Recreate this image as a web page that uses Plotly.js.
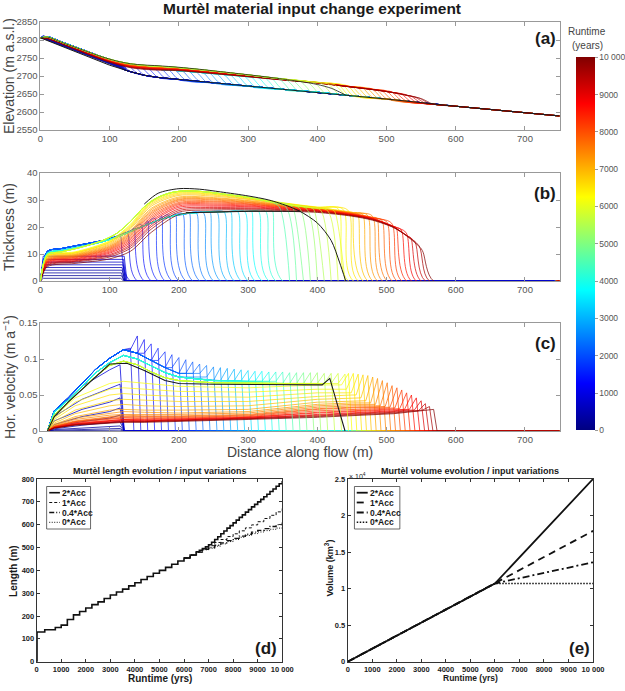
<!DOCTYPE html>
<html>
<head>
<meta charset="utf-8">
<script src="https://cdn.plot.ly/plotly-3.0.1.min.js"></script>
<style>html,body{margin:0;padding:0;background:#fff}</style>
</head>
<body>
<div id="chart" style="width:625px;height:691px"></div>
<script>
// ---------------- bedrock profile (m a.s.l.) ----------------
const bedX = [0, 50, 100, 130, 150, 170, 200, 250, 300, 350, 400, 450, 500, 565, 600, 650, 700, 750];
const bedZ = [2806, 2768, 2730, 2712, 2702, 2696, 2690, 2681, 2672, 2663, 2655, 2645, 2636, 2622, 2616, 2607, 2598, 2589];

// ---------------- early build-up (runtime < 1000 yr) ----------------
const earlyYears = [100, 200, 300, 400, 500, 600, 700, 800, 900];
const earlyThick = [1, 2, 3, 4, 5, 6, 7, 8, 9.2];
const earlyFlatEnd = [116, 117, 117, 118, 118, 119, 119, 120, 121];
const earlyVelX = [10, 20, 60, 100, 115];
const earlyVel = [
  [0, 0.0003, 0.0007, 0.001, 0.0012],
  [0, 0.001, 0.002, 0.003, 0.0035],
  [0, 0.002, 0.004, 0.006, 0.007],
  [0, 0.003, 0.008, 0.011, 0.013],
  [0, 0.006, 0.013, 0.018, 0.022],
  [0, 0.009, 0.02, 0.027, 0.032],
  [0, 0.014, 0.03, 0.04, 0.046],
  [0, 0.02, 0.044, 0.06, 0.065],
  [0, 0.027, 0.062, 0.085, 0.092]
];

// ---------------- advance phase (front position per step) ----------------
const growthFront = [130, 140, 150, 160, 170, 180, 190, 200, 210, 220, 230, 240, 250, 260, 270, 280,
                     290, 300, 310, 320, 330, 340, 350, 360, 370, 380, 390, 400, 410, 420, 430, 440];
const growthYears = [950, 1070, 1200, 1330, 1460, 1590, 1720, 1850, 1970, 2090, 2250, 2410, 2570, 2730, 2890, 3050,
                     3230, 3410, 3590, 3780, 3960, 4150, 4330, 4520, 4700, 4890, 5080, 5260, 5450, 5630, 5820, 6000];
const growthTopAtFront = [17, 18, 19.5, 21, 22.3, 23.3, 24, 24.5, 24.8, 25, 25.2, 25.3, 25.4, 25.5, 25.5, 25.6,
                          25.6, 25.7, 25.7, 25.8, 25.8, 25.9, 26, 27.5, 27.3, 27, 26.8, 26.6, 26.4, 26.2, 26, 25.8];
const growthPeakVel = [0.115, 0.132, 0.127, 0.121, 0.115, 0.11, 0.106, 0.102, 0.099, 0.096, 0.093, 0.091, 0.089, 0.088, 0.087, 0.086,
                       0.085, 0.084, 0.083, 0.083, 0.082, 0.082, 0.082, 0.081, 0.081, 0.081, 0.081, 0.081, 0.08, 0.08, 0.08, 0.079];

// thickness behind the front during the advance (early / middle / late stage)
const stageX = [0, 10, 30, 60, 90, 110, 130, 150, 170, 190, 210, 240, 270, 300, 330, 360, 390, 420];
const stageThickEarly = [0, 11, 12, 13.5, 15, 16.5, 18.5, 20.5, 22.5, 24, 24.8, 25.3, 25.5, 25.6, 25.7, 25.8, 25.8, 25.8];
const stageThickMid   = [0, 10.3, 11.3, 12.8, 14.6, 16.2, 18.3, 20.5, 22.5, 24, 25, 25.5, 25.7, 25.8, 25.9, 26, 26, 26];
const stageThickLate  = [0, 9.8, 10.8, 12.6, 15, 17.6, 22, 27.5, 31, 32.8, 33.4, 33, 32, 31, 29.5, 28.2, 27.2, 26.6];

// horizontal velocity behind the front during the advance
const stageVelX = [10, 20, 40, 60, 80, 100, 120, 140, 160, 180, 200, 250, 300, 350, 400];
const stageVelEarly = [0, 0.028, 0.046, 0.066, 0.086, 0.101, 0.113, 0.108, 0.098, 0.088, 0.08, 0.074, 0.072, 0.071, 0.071];
const stageVelMid   = [0, 0.026, 0.043, 0.062, 0.081, 0.095, 0.105, 0.1, 0.09, 0.081, 0.075, 0.07, 0.069, 0.068, 0.068];
const stageVelLate  = [0, 0.022, 0.04, 0.058, 0.076, 0.091, 0.097, 0.092, 0.082, 0.074, 0.07, 0.067, 0.066, 0.066, 0.066];

// ---------------- after the input change (runtime > 6000 yr) ----------------
const decayYears = [6200, 6350, 6500, 6650, 6850, 7100, 7280, 7450, 7620, 7800, 8000, 8170, 8380, 8590, 8810, 9080, 9330, 9600, 10000];
const decayFront = [445, 452, 459, 466, 473, 480, 487, 494, 501, 508, 515, 522, 529, 536, 543, 550, 556, 562, 568];
const decayTopAtFront = [26.8, 26.6, 26.3, 25.4, 25.1, 24.9, 24.5, 24.2, 23.3, 22.6, 22, 21.5, 19.8, 19, 18, 16, 14.5, 13, 10.5];
const decayPeakVel = [0.08, 0.08, 0.079, 0.078, 0.077, 0.075, 0.073, 0.07, 0.067, 0.063, 0.06, 0.057, 0.053, 0.05, 0.046, 0.042, 0.038, 0.034, 0.03];
const decayX = [0, 10, 50, 100, 130, 160, 200, 250, 300, 350, 400, 450, 480, 510, 530, 550];
const decayThick = [
  [0, 9.5, 10.8, 14.9, 21, 29.7, 33.2, 32.6, 31, 29, 27.4],
  [0, 9.3, 10.6, 14.7, 20.6, 29.2, 32.8, 32.3, 30.8, 28.9, 27.3],
  [0, 9.2, 10.4, 14.4, 20.2, 28.8, 32.5, 32.1, 30.6, 28.8, 27.2],
  [0, 9, 10.3, 14.2, 19.8, 28.3, 32.1, 31.8, 30.4, 28.7, 27.2, 25.5],
  [0, 8.8, 10, 13.8, 19.3, 27.7, 31.7, 31.4, 30.2, 28.5, 27.1, 25.4],
  [0, 8.5, 9.8, 13.4, 18.6, 26.9, 31.1, 30.9, 29.8, 28.3, 26.9, 25.3],
  [0, 8.3, 9.6, 13, 18.1, 26.4, 30.7, 30.6, 29.6, 28.1, 26.8, 25.2],
  [0, 8.1, 9.4, 12.7, 17.7, 25.8, 30.3, 30.3, 29.3, 28, 26.7, 25.1],
  [0, 7.9, 9.2, 12.4, 17.3, 25.3, 30, 30, 29.1, 27.8, 26.6, 25.1, 23.6],
  [0, 7.7, 9, 12.1, 16.8, 24.8, 29.6, 29.6, 28.9, 27.7, 26.6, 25, 23.5],
  [0, 7.5, 8.8, 11.8, 16.3, 24.2, 29.1, 29.3, 28.6, 27.5, 26.5, 24.9, 23.4],
  [0, 7.3, 8.6, 11.5, 15.8, 23.6, 28.7, 28.9, 28.4, 27.4, 26.4, 24.8, 23.3],
  [0, 7.1, 8.3, 11.1, 15.3, 23, 28.3, 28.5, 28.1, 27.2, 26.3, 24.7, 23.2, 20.3],
  [0, 6.9, 8.1, 10.7, 14.7, 22.3, 27.8, 28.1, 27.8, 27, 26.1, 24.6, 23.1, 20.2],
  [0, 6.6, 7.8, 10.3, 14.1, 21.7, 27.3, 27.7, 27.5, 26.8, 26, 24.5, 23, 20.2],
  [0, 6.3, 7.5, 9.8, 13.4, 20.8, 26.7, 27.2, 27.1, 26.6, 25.9, 24.4, 22.9, 20.1, 16.7],
  [0, 6, 7.3, 9.4, 12.8, 20.1, 26.1, 26.8, 26.8, 26.4, 25.8, 24.3, 22.8, 20, 16.7],
  [0, 5.7, 7, 8.9, 12.1, 19.2, 25.5, 26.3, 26.4, 26.1, 25.6, 24.2, 22.7, 19.9, 16.6],
  [0, 5.3, 6.5, 8.2, 11, 18, 24.6, 25.5, 25.9, 25.8, 25.4, 24, 22.5, 19.8, 16.5, 12]
];
const decayVelX = [10, 20, 50, 100, 120, 150, 200, 300, 400, 450, 480, 510, 530, 550];
const decayVel = [
  [0, 0.02, 0.046, 0.066, 0.069, 0.066, 0.062, 0.06, 0.064],
  [0, 0.018, 0.04, 0.058, 0.06, 0.058, 0.055, 0.054, 0.058],
  [0, 0.016, 0.035, 0.05, 0.052, 0.05, 0.048, 0.047, 0.053],
  [0, 0.013, 0.029, 0.042, 0.044, 0.043, 0.041, 0.041, 0.048, 0.05],
  [0, 0.011, 0.024, 0.035, 0.037, 0.035, 0.034, 0.035, 0.044, 0.046],
  [0, 0.0092, 0.02, 0.029, 0.03, 0.029, 0.029, 0.03, 0.04, 0.042],
  [0, 0.0081, 0.018, 0.025, 0.027, 0.026, 0.025, 0.027, 0.037, 0.039],
  [0, 0.0072, 0.016, 0.022, 0.023, 0.023, 0.023, 0.025, 0.035, 0.037, 0.037],
  [0, 0.0067, 0.014, 0.02, 0.022, 0.021, 0.021, 0.023, 0.033, 0.035, 0.035],
  [0, 0.0063, 0.013, 0.019, 0.02, 0.02, 0.02, 0.022, 0.031, 0.033, 0.034],
  [0, 0.006, 0.013, 0.018, 0.019, 0.019, 0.019, 0.021, 0.03, 0.032, 0.033],
  [0, 0.0056, 0.012, 0.017, 0.018, 0.017, 0.018, 0.02, 0.028, 0.03, 0.031, 0.032],
  [0, 0.0053, 0.011, 0.015, 0.016, 0.016, 0.017, 0.019, 0.026, 0.028, 0.029, 0.031],
  [0, 0.005, 0.01, 0.014, 0.016, 0.015, 0.016, 0.019, 0.025, 0.027, 0.028, 0.03],
  [0, 0.0047, 0.0097, 0.013, 0.015, 0.014, 0.015, 0.018, 0.023, 0.025, 0.026, 0.028, 0.03],
  [0, 0.0045, 0.0093, 0.013, 0.014, 0.014, 0.015, 0.018, 0.022, 0.024, 0.025, 0.027, 0.029],
  [0, 0.0044, 0.0088, 0.012, 0.013, 0.013, 0.014, 0.017, 0.021, 0.023, 0.024, 0.026, 0.028],
  [0, 0.0042, 0.0084, 0.012, 0.013, 0.013, 0.014, 0.017, 0.02, 0.022, 0.023, 0.025, 0.027, 0.029],
  [0, 0.004, 0.008, 0.011, 0.012, 0.012, 0.013, 0.016, 0.019, 0.021, 0.022, 0.024, 0.026, 0.028]
];

// ---------------- reference profiles drawn in black ----------------
const blackX     = [0, 10, 30, 60, 90, 110, 130, 150, 170, 200, 230, 260, 300, 330, 360, 375, 400, 420, 432, 441];
const blackThick = [0, 9.8, 10.8, 12.6, 15, 17.6, 22, 28.5, 32.5, 34.2, 34, 33, 31.5, 30, 27.5, 25.8, 21.5, 15, 7, 0];
const blackLowX  = [210, 250, 300, 350, 375];
const blackLow   = [25.3, 25.6, 25.8, 25.8, 25.8];
const blackVelX  = [10, 20, 40, 60, 80, 100, 125, 150, 180, 200, 250, 300, 350, 400, 407, 418, 440];
const blackVel   = [0, 0.02, 0.04, 0.058, 0.076, 0.093, 0.094, 0.084, 0.07, 0.066, 0.065, 0.065, 0.065, 0.065, 0.064, 0.073, 0];

// ---------------- (d) length evolution (stepwise front advance) ----------------
const lenYears = [0, 15, 330, 760, 1000, 1250, 1500, 1750, 2000, 2250, 2500, 2750, 3000, 3250, 3500, 3750, 4000,
                  4250, 4500, 4750, 5000, 5250, 5500, 5750, 6000, 6250, 6500, 6625, 6750, 6875, 7000, 7125, 7250,
                  7375, 7500, 7625, 7750, 7875, 8000, 8125, 8250, 8375, 8500, 8625, 8750, 8875, 9000, 9125, 9250,
                  9375, 9500, 9625, 9750, 9875, 10000];
const len2Acc = [0, 130, 140, 150, 160, 185, 205, 220, 235, 250, 262, 277, 292, 305, 318, 332, 346,
                 360, 373, 387, 400, 413, 427, 441, 454, 467, 481, 488, 495, 503, 512, 523, 535,
                 547, 560, 572, 585, 596, 608, 620, 632, 643, 655, 666, 678, 689, 700, 711, 722,
                 733, 745, 756, 768, 779, 791];
const varYears = [6000, 6250, 6500, 6750, 7000, 7250, 7500, 7750, 8000, 8250, 8500, 8750, 9000, 9250, 9500, 9750, 10000];
const len1Acc  = [454, 467, 481, 495, 508, 522, 535, 548, 560, 573, 586, 599, 613, 627, 641, 656, 671];
const len04Acc = [454, 467, 480, 492, 500, 510, 520, 530, 540, 550, 558, 567, 575, 583, 592, 600, 610];
const len0Acc  = [454, 467, 479, 490, 497, 506, 516, 526, 535, 545, 553, 561, 568, 574, 580, 585, 588];

// ---------------- (e) volume evolution ----------------
const volYears = [0, 6000, 10000];
const vol2Acc  = [0, 10700, 25000];
const vol1Acc  = [0, 10700, 17900];
const vol04Acc = [0, 10700, 13600];
const vol0Acc  = [0, 10700, 10700];

const scenarioNames = ['2*Acc', '1*Acc', '0.4*Acc', '0*Acc'];
const runtimeTicks = [0, 1000, 2000, 3000, 4000, 5000, 6000, 7000, 8000, 9000, 10000];
const runtimeLabels = ['0', '1000', '2000', '3000', '4000', '5000', '6000', '7000', '8000', '9000', '10 000'];

// ---------------- helpers ----------------
const W = 625, H = 691;
const px = v => v / W, py = v => 1 - v / H;
const FONT = 'Liberation Sans, Arial, sans-serif';

const jetStops = [[0, [0, 0, 128]], [0.125, [0, 0, 255]], [0.375, [0, 255, 255]],
                  [0.625, [255, 255, 0]], [0.875, [255, 0, 0]], [1, [128, 0, 0]]];
const jetScale = jetStops.map(([f, c]) => [f, 'rgb(' + c.join(',') + ')']);
function jet(f) {
  f = Math.max(0, Math.min(1, f));
  for (let i = 1; i < jetStops.length; i++) {
    if (f <= jetStops[i][0]) {
      const [f0, c0] = jetStops[i - 1], [f1, c1] = jetStops[i];
      const u = (f - f0) / (f1 - f0);
      return 'rgb(' + c0.map((v, k) => Math.round(v + (c1[k] - v) * u)).join(',') + ')';
    }
  }
  return 'rgb(128,0,0)';
}
function bedAt(x) {
  for (let i = 1; i < bedX.length; i++) {
    if (x <= bedX[i]) {
      const u = (x - bedX[i - 1]) / (bedX[i] - bedX[i - 1]);
      return bedZ[i - 1] + (bedZ[i] - bedZ[i - 1]) * u;
    }
  }
  return bedZ[bedZ.length - 1];
}
// thickness line: values behind the front, then the front itself, then (optionally) ice-free bed
function thickLine(xs, hs, front, top, tail) {
  const X = [], Y = [];
  for (let i = 0; i < xs.length && i < hs.length; i++) {
    if (xs[i] < front - 15) { X.push(xs[i]); Y.push(hs[i]); }
  }
  X.push(front - 15, front); Y.push(top, 0);
  if (tail) { X.push(750); Y.push(0); }
  return [X, Y];
}
function velLine(xs, vs, front, peak, tail) {
  const X = [], Y = [];
  let last = 0;
  for (let i = 0; i < xs.length && i < vs.length; i++) {
    if (xs[i] <= front - 10) { X.push(xs[i]); Y.push(vs[i]); last = vs[i]; }
  }
  if (X[X.length - 1] < front - 10) { X.push(front - 10); Y.push(last); }
  X.push(front, front + 5); Y.push(peak, 0);
  if (tail) { X.push(750); Y.push(0); }
  return [X, Y];
}
// surface elevation = bed + thickness, ice-free part (optionally) follows the bed
function surfaceLine(X, Y, front, tail) {
  const sx = [], sz = [];
  X.forEach((x, i) => { if (x <= front) { sx.push(x); sz.push(bedAt(x) + Y[i]); } });
  if (tail) bedX.forEach((x, i) => { if (x > front) { sx.push(x); sz.push(bedZ[i]); } });
  return [sx, sz];
}

const traces = [];
function addLine(xa, ya, X, Y, color, extra) {
  traces.push(Object.assign({
    type: 'scatter', mode: 'lines', xaxis: xa, yaxis: ya, x: X, y: Y,
    line: { color: color, width: 0.9 }, hoverinfo: 'skip', showlegend: false
  }, extra || {}));
}
const smooth = { shape: 'spline', smoothing: 0.8 };

// early build-up
earlyYears.forEach((yr, i) => {
  const col = jet(yr / 10000);
  const X = [0, 4, earlyFlatEnd[i], earlyFlatEnd[i] + 4, 750];
  const Y = [0, earlyThick[i], earlyThick[i], 0, 0];
  addLine('x2', 'y2', X, Y, col, { opacity: 0.85 });
  const [sx, sz] = surfaceLine(X.slice(0, 4), Y.slice(0, 4), earlyFlatEnd[i] + 4, true);
  addLine('x', 'y', sx, sz, col, { opacity: 0.85 });
  addLine('x3', 'y3', earlyVelX.concat([121, 750]), earlyVel[i].concat([0, 0]), col, { opacity: 0.85 });
});

// advance: stage 0/1 drawn first, late stage (thick bulge) drawn after the decline
const stageThick = [stageThickEarly, stageThickMid, stageThickLate];
const stageVel = [stageVelEarly, stageVelMid, stageVelLate];
function drawGrowth(lateStage) {
  const tail = !lateStage;
  growthFront.forEach((F, i) => {
    const yr = growthYears[i];
    const st = yr < 2500 ? 0 : (yr < 4500 ? 1 : 2);
    if ((st === 2) !== lateStage) return;
    const col = jet(yr / 10000);
    const [X, Y] = thickLine(stageX, stageThick[st], F, growthTopAtFront[i], tail);
    addLine('x2', 'y2', X, Y, col, { opacity: 0.75, line: Object.assign({ color: col, width: 0.9 }, smooth) });
    const [sx, sz] = surfaceLine(X, Y, F, tail);
    addLine('x', 'y', sx, sz, col, { opacity: 0.75, line: Object.assign({ color: col, width: 0.8 }, smooth) });
    const [vx, vy] = velLine(stageVelX, stageVel[st], F, growthPeakVel[i], tail);
    addLine('x3', 'y3', vx, vy, col, { opacity: 0.75 });
  });
}
drawGrowth(false);

// after the input change
decayYears.forEach((yr, i) => {
  const col = jet(yr / 10000);
  const F = decayFront[i];
  const [X, Y] = thickLine(decayX, decayThick[i], F, decayTopAtFront[i], true);
  addLine('x2', 'y2', X, Y, col, { opacity: 0.8, line: Object.assign({ color: col, width: 0.9 }, smooth) });
  const [sx, sz] = surfaceLine(X, Y, F, true);
  addLine('x', 'y', sx, sz, col, { opacity: 0.8, line: Object.assign({ color: col, width: 0.8 }, smooth) });
  const [vx, vy] = velLine(decayVelX, decayVel[i], F, decayPeakVel[i], true);
  addLine('x3', 'y3', vx, vy, col, { opacity: 0.8 });
});

drawGrowth(true);

// black reference lines
{
  const bx = [], by = [];
  blackX.forEach((x, i) => { if (x >= 150) { bx.push(x); by.push(blackThick[i]); } });
  addLine('x2', 'y2', bx, by, '#1a1a1a', { line: Object.assign({ color: '#1a1a1a', width: 1 }, smooth) });
  addLine('x2', 'y2', blackLowX, blackLow, '#1a1a1a', { line: { color: '#1a1a1a', width: 1 } });
  const [sx, sz] = surfaceLine(blackX, blackThick, 441, false);
  addLine('x', 'y', sx, sz, '#1a1a1a', { line: Object.assign({ color: '#1a1a1a', width: 0.8 }, smooth) });
  addLine('x', 'y', bedX, bedZ, '#1a1a1a', { line: { color: '#1a1a1a', width: 1 } });
  addLine('x3', 'y3', blackVelX, blackVel, '#1a1a1a', { line: { color: '#1a1a1a', width: 1.1 } });
}

// runtime colour bar
traces.push({
  type: 'scatter', mode: 'markers', xaxis: 'x3', yaxis: 'y3', x: [-50, -50], y: [-1, -1],
  showlegend: false, hoverinfo: 'skip',
  marker: {
    size: 1, opacity: 0, color: [0, 10000], cmin: 0, cmax: 10000, colorscale: jetScale, showscale: true,
    colorbar: {
      x: px(575.7), xanchor: 'left', xref: 'paper', y: py(57.3), yanchor: 'top', yref: 'paper',
      len: 373.4, lenmode: 'pixels', thickness: 19, thicknessmode: 'pixels', xpad: 0, ypad: 0,
      outlinewidth: 0, tickvals: runtimeTicks, ticktext: runtimeLabels,
      ticks: 'outside', ticklen: 3, tickcolor: '#999',
      tickfont: { family: FONT, size: 8.5, color: '#555' }
    }
  }
});

// (d) length and (e) volume scenarios
const dDash = ['solid', '3px,2px', '5px,2px,1px,2px', '1px,1.5px'];
const dWidth = [1.6, 1, 1.3, 1];
const eDash = ['solid', '7px,5px', '7px,3px,2px,3px', '1.5px,1.5px'];
const eWidth = [1.8, 1.8, 1.8, 1.6];
const lenX = [lenYears, varYears, varYears, varYears];
const lenY = [len2Acc, len1Acc, len04Acc, len0Acc];
const volY = [vol2Acc, vol1Acc, vol04Acc, vol0Acc];
for (let k = 3; k >= 0; k--) {
  addLine('x4', 'y4', lenX[k], lenY[k], '#111', { line: { color: '#111', width: dWidth[k], dash: dDash[k], shape: 'hv' } });
  addLine('x5', 'y5', volYears, volY[k], '#111', { line: { color: '#111', width: eWidth[k], dash: eDash[k] } });
}

// ---------------- axes ----------------
function axTop(extra) {
  return Object.assign({
    showline: true, mirror: 'allticks', linecolor: '#999', linewidth: 1,
    ticks: 'inside', ticklen: 4, tickcolor: '#999', tickwidth: 1,
    showgrid: false, zeroline: false, fixedrange: true,
    tickfont: { family: FONT, size: 9.5, color: '#555' }
  }, extra);
}
function axBot(extra) {
  return Object.assign({
    showline: true, mirror: 'allticks', linecolor: '#333', linewidth: 1,
    ticks: 'inside', ticklen: 3, tickcolor: '#333', tickwidth: 1,
    showgrid: false, zeroline: false, fixedrange: true,
    tickfont: { family: FONT, size: 7.5, color: '#222', weight: 'bold' }
  }, extra);
}
const distTicks = [0, 100, 200, 300, 400, 500, 600, 700];
const topDom = [px(40.5), px(560.5)];

function ann(x, y, text, size, extra) {
  return Object.assign({
    xref: 'paper', yref: 'paper', x: px(x), y: py(y), text: text, showarrow: false,
    xanchor: 'center', yanchor: 'middle', font: { family: FONT, size: size, color: '#444' }
  }, extra || {});
}
const dark = c => ({ family: FONT, size: c, color: '#1a1a1a' });

// hand-drawn legend boxes for (d) and (e)
const shapes = [];
const annotations = [
  ann(312, 9, '<b>Murtèl material input change experiment</b>', 15.5, { font: dark(15.5) }),
  ann(588, 32, 'Runtime', 10),
  ann(588, 45, '(years)', 10),
  ann(546, 38, '<b>(a)</b>', 17, { font: dark(17) }),
  ann(546, 193, '<b>(b)</b>', 17, { font: dark(17) }),
  ann(546, 343, '<b>(c)</b>', 17, { font: dark(17) }),
  ann(9, 76, 'Elevation (m a.s.l.)', 14, { textangle: -90 }),
  ann(9, 227, 'Thickness (m)', 14, { textangle: -90 }),
  ann(9, 377, 'Hor. velocity (m a<sup>−1</sup>)', 14, { textangle: -90 }),
  ann(300, 452, 'Distance along flow (m)', 14),
  ann(160, 470.5, '<b>Murtèl length evolution / input variations</b>', 9, { font: dark(9) }),
  ann(471, 470.5, '<b>Murtèl volume evolution / input variations</b>', 9, { font: dark(9) }),
  ann(160, 678, '<b>Runtime (yrs)</b>', 10, { font: dark(10) }),
  ann(471, 678, '<b>Runtime (yrs)</b>', 8.5, { font: dark(8.5) }),
  ann(13, 571, '<b>Length (m)</b>', 10, { textangle: -90, font: dark(10) }),
  ann(330, 568, '<b>Volume (km<sup>3</sup>)</b>', 9, { textangle: -90, font: dark(9) }),
  ann(358, 475.5, '× 10<sup>4</sup>', 7, { font: dark(7) }),
  ann(266, 648, '<b>(d)</b>', 17, { font: dark(17) }),
  ann(580, 648, '<b>(e)</b>', 17, { font: dark(17) })
];
function legendBox(x0, x1, sx0, sx1, tx, dashes, widths) {
  shapes.push({ type: 'rect', xref: 'paper', yref: 'paper', x0: px(x0), x1: px(x1), y0: py(529), y1: py(486.5),
                line: { color: '#444', width: 0.8 }, fillcolor: '#fff', layer: 'above' });
  const rows = [492.7, 502.5, 512.5, 522.3];
  scenarioNames.forEach((nm, k) => {
    shapes.push({ type: 'line', xref: 'paper', yref: 'paper', x0: px(sx0), x1: px(sx1), y0: py(rows[k]), y1: py(rows[k]),
                  line: { color: '#111', width: widths[k], dash: dashes[k] }, layer: 'above' });
    annotations.push(ann(tx, rows[k], '<b>' + nm + '</b>', 8.5, { xanchor: 'left', font: dark(8.5) }));
  });
}
legendBox(46.7, 90.7, 49.3, 60, 60, dDash, dWidth);
legendBox(355, 400.5, 357.3, 368.3, 368.5, eDash, eWidth);

const layout = {
  width: W, height: H, margin: { l: 0, r: 0, t: 0, b: 0 },
  paper_bgcolor: '#fff', plot_bgcolor: '#fff', font: { family: FONT },
  showlegend: false,
  xaxis:  axTop({ domain: topDom, range: [0, 750], tickvals: distTicks, anchor: 'y' }),
  yaxis:  axTop({ domain: [py(130), py(22)], range: [2550, 2850], tickvals: [2550, 2600, 2650, 2700, 2750, 2800, 2850], anchor: 'x' }),
  xaxis2: axTop({ domain: topDom, range: [0, 750], tickvals: distTicks, anchor: 'y2' }),
  yaxis2: axTop({ domain: [py(281), py(173)], range: [0, 40], tickvals: [0, 10, 20, 30, 40], anchor: 'x2' }),
  xaxis3: axTop({ domain: topDom, range: [0, 750], tickvals: distTicks, anchor: 'y3' }),
  yaxis3: axTop({ domain: [py(431), py(323)], range: [0, 0.15], tickvals: [0, 0.05, 0.1, 0.15], ticktext: ['0', '0.05', '0.1', '0.15'], anchor: 'x3' }),
  xaxis4: axBot({ domain: [px(36.7), px(282.7)], range: [0, 10000], tickvals: runtimeTicks, ticktext: runtimeLabels, anchor: 'y4' }),
  yaxis4: axBot({ domain: [py(661.7), py(479)], range: [0, 800], tickvals: [0, 100, 200, 300, 400, 500, 600, 700, 800], anchor: 'x4' }),
  xaxis5: axBot({ domain: [px(348.3), px(594)], range: [0, 10000], tickvals: runtimeTicks, ticktext: runtimeLabels, anchor: 'y5' }),
  yaxis5: axBot({ domain: [py(661.7), py(479)], range: [0, 25000], tickvals: [0, 5000, 10000, 15000, 20000, 25000],
                  ticktext: ['0', '0.5', '1', '1.5', '2', '2.5'], anchor: 'x5' }),
  shapes: shapes,
  annotations: annotations
};

Plotly.newPlot('chart', traces, layout, { staticPlot: true, displayModeBar: false });
</script>
</body>
</html>
